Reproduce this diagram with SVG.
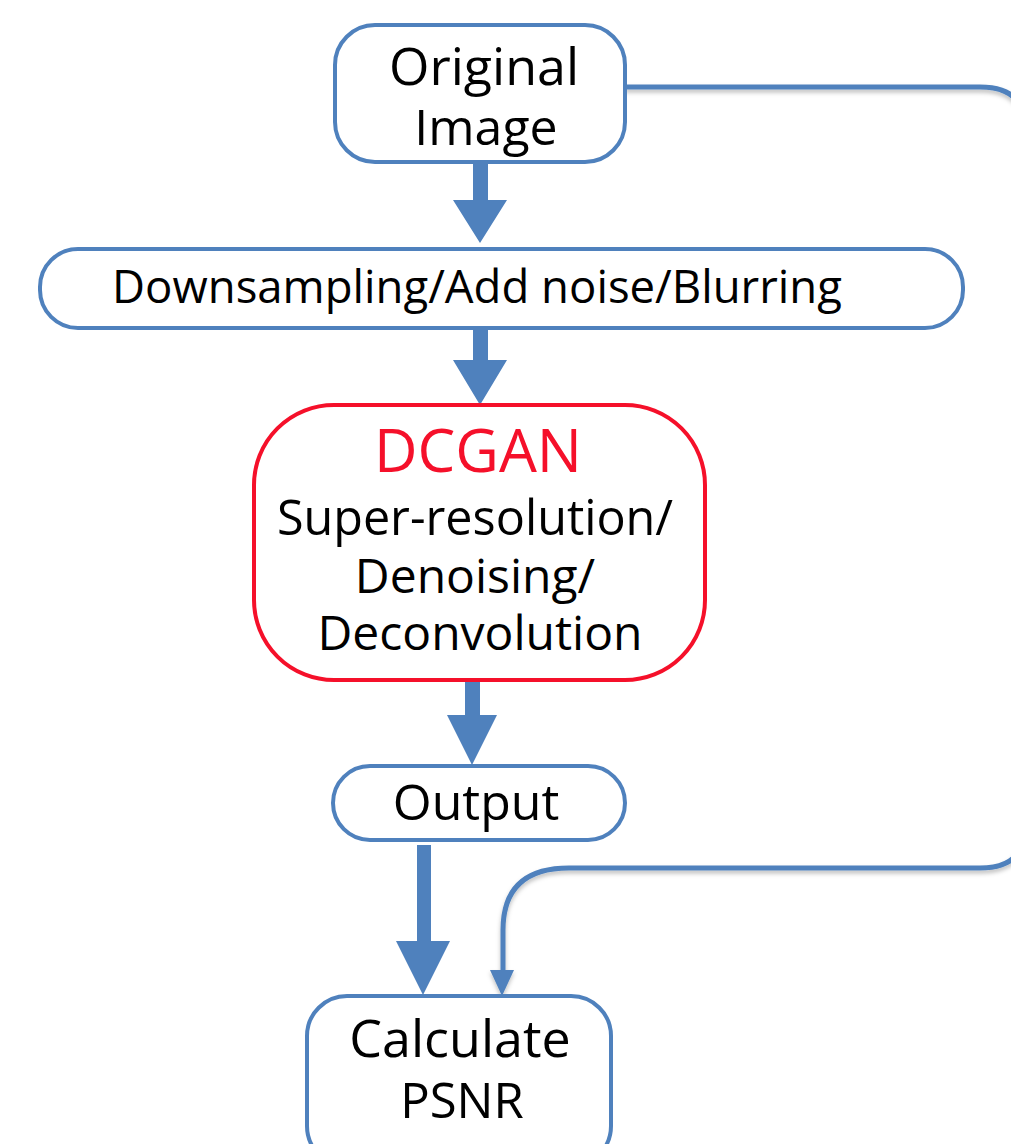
<svg xmlns="http://www.w3.org/2000/svg" width="1011" height="1144" viewBox="0 0 1011 1144">
<style>
.box{fill:#fff;stroke:#4F81BD;stroke-width:4}
.red{fill:#fff;stroke:#F5102A;stroke-width:4}
.t{font-family:"Open Sans","Noto Sans",sans-serif;fill:#000;text-anchor:middle}
.blk{fill:#4F81BD}
.ln{fill:none;stroke:#4F81BD;stroke-width:5}
</style>
<defs>
<filter id="sh" x="-5%" y="-5%" width="110%" height="120%">
<feDropShadow dx="0" dy="3" stdDeviation="2" flood-color="#000" flood-opacity="0.25"/>
</filter>
</defs>
<g id="connectors">
<g filter="url(#sh)">
<path class="ln" d="M625,87 H980 Q1026,87 1026,130 V825 Q1026,868 980,868 H569 Q503,868 503,930 V972"/>
<polygon class="blk" points="490,970 514,970 502,996"/>
</g>
<polygon class="blk" points="473,160 488,160 488,200 507,200 480,243 453,200 473,200"/>
<polygon class="blk" points="473,328 488,328 488,360 507,360 480,405 453,360 473,360"/>
<polygon class="blk" points="465,682 480,682 480,715 497,715 472,765 447,715 465,715"/>
<polygon class="blk" points="417,845 431,845 431,941 450,941 423,995 396,941 417,941"/>
</g>
<g id="original">
<rect class="box" x="335" y="25" width="290" height="137" rx="40"/>
<text class="t" x="484" y="85" font-size="52">Original</text>
<text class="t" x="486" y="145" font-size="50">Image</text>
</g>
<g id="degrade">
<rect class="box" x="40" y="249" width="923" height="79" rx="38"/>
<text class="t" x="477" y="303" font-size="45.5">Downsampling/Add noise/Blurring</text>
</g>
<g id="dcgan">
<rect class="red" x="254" y="405" width="451" height="275" rx="80"/>
<text class="t" x="478" y="472" font-size="60" style="fill:#F5102A">DCGAN</text>
<text class="t" x="475" y="535" font-size="48.5">Super-resolution/</text>
<text class="t" x="475" y="593" font-size="48">Denoising/</text>
<text class="t" x="480" y="650" font-size="48">Deconvolution</text>
</g>
<g id="output">
<rect class="box" x="333" y="766" width="292" height="74" rx="37"/>
<text class="t" x="476" y="820" font-size="50">Output</text>
</g>
<g id="psnr">
<rect class="box" x="307" y="996" width="304" height="170" rx="40"/>
<text class="t" x="460" y="1057" font-size="52">Calculate</text>
<text class="t" x="462" y="1118" font-size="49">PSNR</text>
</g>
</svg>
